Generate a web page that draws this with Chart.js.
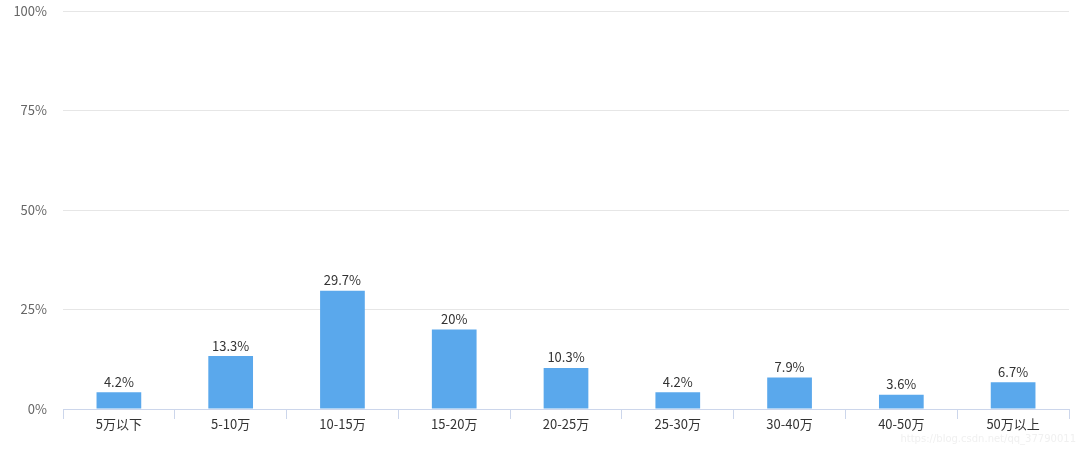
<!DOCTYPE html>
<html><head><meta charset="utf-8">
<script src="https://cdn.jsdelivr.net/npm/chart.js@4.4.0/dist/chart.umd.min.js"></script>
<style>html,body{margin:0;padding:0;background:#fff;}#wrap{width:1080px;height:450px;position:relative;}
#wm{position:absolute;right:4px;bottom:6px;font:10px "DejaVu Sans",sans-serif;color:#f0f0f0;}</style>
</head><body><div id="wrap"><canvas id="c" width="1080" height="450"></canvas><div id="wm">https://blog.csdn.net/qq_37790011</div></div>
<script>
const categories = ["5万以下","5-10万","10-15万","15-20万","20-25万","25-30万","30-40万","40-50万","50万以上"];
const values = [4.2, 13.3, 29.7, 20, 10.3, 4.2, 7.9, 3.6, 6.7];
const yTicks = [0, 25, 50, 75, 100];
const FONT = '"Noto Sans CJK SC","DejaVu Sans",sans-serif';

const labelPlugin = {
  id: 'barLabels',
  afterDatasetsDraw(chart) {
    const ctx = chart.ctx;
    const meta = chart.getDatasetMeta(0);
    ctx.save();
    ctx.font = '13px ' + FONT;
    ctx.fillStyle = '#333333';
    ctx.textAlign = 'center';
    ctx.textBaseline = 'bottom';
    meta.data.forEach((bar, i) => {
      ctx.fillText(values[i] + '%', bar.x, bar.y - 4);
    });
    ctx.restore();
  }
};

new Chart(document.getElementById('c'), {
  type: 'bar',
  data: { labels: categories, datasets: [{ data: values, backgroundColor: '#5aa8ec', barPercentage: 0.4, categoryPercentage: 1.0 }] },
  options: {
    responsive: false, animation: false,
    layout: { padding: { top: 11, right: 11, left: 0, bottom: 0 } },
    plugins: { legend: { display: false }, tooltip: { enabled: false } },
    scales: {
      x: {
        offset: true,
        grid: { display: true, drawOnChartArea: false, drawTicks: true, tickLength: 10, color: '#ccd6eb', offset: true },
        border: { display: true, color: '#ccd6eb' },
        ticks: { color: '#333333', font: { size: 13, family: FONT }, padding: -3, maxRotation: 0 },
        afterFit(s) { s.height = 41; s.paddingLeft = 0; s.paddingRight = 0; }
      },
      y: {
        min: 0, max: 100,
        afterBuildTicks(s) { s.ticks = yTicks.map(v => ({ value: v })); },
        grid: { color: '#e6e6e6', drawTicks: false },
        border: { display: false },
        ticks: { color: '#666666', font: { size: 13, family: FONT }, padding: 16, callback: v => v + '%' },
        afterFit(s) { s.width = 63; s.paddingTop = 0; s.paddingBottom = 0; }
      }
    }
  },
  plugins: [labelPlugin]
});
</script></body></html>
